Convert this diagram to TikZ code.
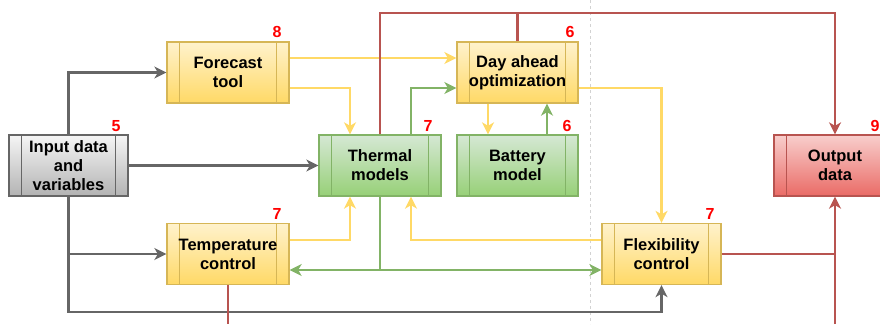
\documentclass[tikz,border=0pt]{standalone}
\usepackage{fontspec}
\setmainfont{Liberation Sans}
\usetikzlibrary{arrows.meta,calc}
\definecolor{ylS}{HTML}{D6B656}\definecolor{ylT}{HTML}{FFF2CC}\definecolor{ylB}{HTML}{FFD966}
\definecolor{gnS}{HTML}{82B366}\definecolor{gnT}{HTML}{D5E8D4}\definecolor{gnB}{HTML}{97D077}
\definecolor{gyS}{HTML}{666666}\definecolor{gyT}{HTML}{F5F5F5}\definecolor{gyB}{HTML}{B3B3B3}
\definecolor{rdS}{HTML}{B85450}\definecolor{rdT}{HTML}{F8CECC}\definecolor{rdB}{HTML}{EA6B66}
\definecolor{ylL}{HTML}{FFD966}
\tikzset{
  proc/.style n args={3}{draw=#1, top color=#2, bottom color=#3, line width=1.3pt,
    minimum width=121pt, minimum height=61pt, inner sep=0pt, align=center,
    font=\fontsize{16.5}{19}\selectfont\bfseries,
    path picture={\draw[#1,line width=1.3pt]
      ([xshift=12.5pt]path picture bounding box.north west) -- ([xshift=12.5pt]path picture bounding box.south west)
      ([xshift=-12.5pt]path picture bounding box.north east) -- ([xshift=-12.5pt]path picture bounding box.south east);}},
  ybox/.style={proc={ylS}{ylT}{ylB}},
  gbox/.style={proc={gnS}{gnT}{gnB}},
  graybox/.style={proc={gyS}{gyT}{gyB}},
  rbox/.style={proc={rdS}{rdT}{rdB}},
  num/.style={text=red, font=\fontsize{16}{16}\selectfont\bfseries, inner sep=0pt},
  conn/.style={line width=2.6pt, line join=miter},
  tip/.style={-{Stealth[length=12pt,width=12pt,inset=3.5pt]}},
  yl/.style={conn, draw=ylL},
  gn/.style={conn, draw=gnS},
  gy/.style={conn, draw=gyS},
  rd/.style={conn, draw=rdS},
}
\begin{document}
\begin{tikzpicture}[x=1pt,y=-1pt]
\useasboundingbox (0,0) rectangle (880,324);
\draw[gray!35, line width=1pt, dash pattern=on 3pt off 3pt] (590,0) -- (590,324);

\node[graybox, minimum width=119pt] (in) at (68.5,165.5) {Input data\\and\\variables};
\node[ybox, minimum width=122pt] (fc) at (228,72.5) {Forecast\\tool};
\node[gbox, minimum width=122pt] (th) at (380,165.5) {Thermal\\models};
\node[ybox] (da) at (517.5,72.5) {Day ahead\\optimization};
\node[gbox] (bt) at (517.5,165.5) {Battery\\model};
\node[rbox, minimum width=122pt] (out) at (835,165.5) {Output\\data};
\node[ybox, minimum width=122pt] (tc) at (228,254) {Temperature\\control};
\node[ybox, minimum width=119pt] (fl) at (661.5,254) {Flexibility\\control};

\node[num] (n5) at (116,126) {5};
\node[num] (n8) at (277,32) {8};
\node[num] (n7a) at (428,126) {7};
\node[num] (n6a) at (570,32) {6};
\node[num] (n6b) at (567,126) {6};
\node[num] (n9) at (875,126) {9};
\node[num] (n7b) at (277,214) {7};
\node[num] (n7c) at (710,214) {7};

% gray
\draw[gy,tip] (in.north) |- (fc.west);
\draw[gy,tip] (in.east) -- (th.west);
\draw[gy,tip] (in.south) |- (tc.west);
\draw[gy,tip] (in.south) -- (in.south |- 0,312) -| (fl.south);

% yellow
\draw[yl,tip] (fc.east |- 0,58) -- (da.west |- 0,58);
\draw[yl,tip] (fc.east |- 0,88) -| ($(th.north)+(-30,0)$);
\draw[yl,tip] ($(da.south)+(-29.5,0)$) -- ($(bt.north)+(-29.5,0)$);
\draw[yl,tip] (da.east |- 0,88) -| (fl.north);
\draw[yl,tip] (fl.west |- 0,240) -| ($(th.south)+(31,0)$);
\draw[yl,tip] (tc.east |- 0,240) -| ($(th.south)+(-30,0)$);

% green
\draw[gn,tip] ($(th.north)+(31,0)$) |- (da.west |- 0,88);
\draw[gn,tip] ($(bt.north)+(29.5,0)$) -- ($(da.south)+(29.5,0)$);
\draw[gn,tip] (th.south) |- (tc.east |- 0,270);
\draw[gn,tip] (th.south |- 0,270) -- (fl.west |- 0,270);

% red
\coordinate (topy) at (0,13);
\coordinate (tcb) at (228,324);
\coordinate (ob) at (835,324);
\draw[rd,tip] (th.north) -- (th.north |- topy) -| (out.north);
\draw[rd] (da.north) -- (da.north |- topy);
\draw[rd] (tc.south) -- (tcb);
\draw[rd,tip] (ob) -- (out.south);
\draw[rd] (fl.east) -- (fl.east -| out.south);
\end{tikzpicture}
\end{document}
